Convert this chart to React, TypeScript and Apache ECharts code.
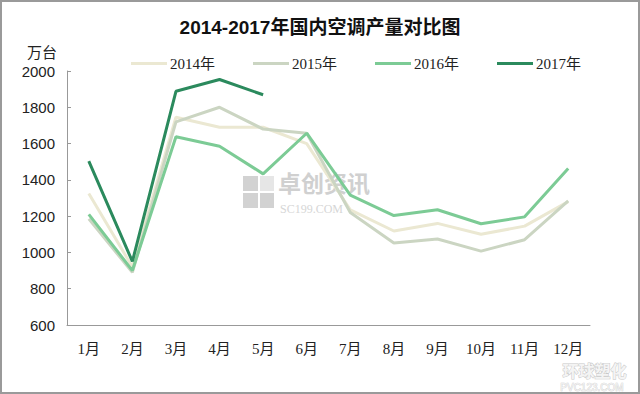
import React, { useEffect, useRef } from "react";
import * as echarts from "echarts";

const months = ["1月", "2月", "3月", "4月", "5月", "6月", "7月", "8月", "9月", "10月", "11月", "12月"];
const yTicks = [600, 2000, 200];
const s2014 = [1325, 920, 1745, 1690, 1690, 1600, 1235, 1118, 1160, 1100, 1145, 1280];
const s2015 = [1185, 890, 1720, 1800, 1680, 1657, 1220, 1052, 1074, 1007, 1070, 1284];
const s2016 = [1210, 900, 1638, 1585, 1433, 1657, 1316, 1203, 1235, 1158, 1196, 1463];
const s2017 = [1503, 950, 1888, 1953, 1869];
const seriesNames = ["2014年", "2015年", "2016年", "2017年"];
const colors = ["#ebe8d2", "#cbd5c2", "#7ccb95", "#2b8a5d"];

export default function App() {
  const ref = useRef<HTMLDivElement>(null);
  useEffect(() => {
    document.body.style.margin = "0";
    const chart = echarts.init(ref.current!, undefined, { renderer: "svg" });
    const data = [s2014, s2015, s2016, s2017];
    chart.setOption({
      animation: false,
      backgroundColor: "#ffffff",
      title: {
        text: "2014-2017年国内空调产量对比图",
        left: "center",
        top: 11,
        textStyle: {
          fontFamily: "'Liberation Sans', 'Noto Sans CJK SC'",
          fontWeight: "bold",
          fontSize: 19,
          color: "#111",
        },
      },
      legend: {
        left: 124,
        top: 49,
        itemWidth: 36,
        itemHeight: 3,
        itemGap: 38,
        icon: "rect",
        textStyle: {
          fontFamily: "'Liberation Serif', 'Noto Sans CJK SC'",
          fontSize: 15,
          color: "#222",
          padding: [0, 0, 0, -2],
        },
        data: seriesNames,
      },
      grid: { left: 65, right: 48, top: 69, bottom: 67 },
      xAxis: {
        type: "category",
        data: months,
        boundaryGap: true,
        axisLine: { lineStyle: { color: "#999", width: 1 } },
        axisTick: { inside: true, length: 4, lineStyle: { color: "#999" } },
        axisLabel: {
          margin: 16,
          fontFamily: "'Liberation Serif', 'Noto Sans CJK SC'",
          fontSize: 15,
          color: "#222",
        },
      },
      yAxis: {
        type: "value",
        min: yTicks[0],
        max: yTicks[1],
        interval: yTicks[2],
        name: "万台",
        nameLocation: "end",
        nameGap: 12,
        nameTextStyle: {
          fontFamily: "'Noto Sans CJK SC'",
          fontSize: 15,
          color: "#222",
          align: "right",
          padding: [0, 10, 0, 0],
        },
        splitLine: { show: false },
        axisLine: { show: true, lineStyle: { color: "#999", width: 1 } },
        axisTick: { show: true, inside: true, length: 4, lineStyle: { color: "#999" } },
        axisLabel: {
          margin: 12,
          formatter: (v: number) => String(v),
          fontFamily: "'Liberation Sans'",
          fontSize: 15,
          color: "#222",
        },
      },
      graphic: [
        { type: "rect", left: 241, top: 174, shape: { width: 15, height: 15 }, style: { fill: "#d2d2d2" }, z: 0 },
        { type: "rect", left: 258, top: 174, shape: { width: 14, height: 15 }, style: { fill: "#e6e6e6" }, z: 0 },
        { type: "rect", left: 241, top: 191, shape: { width: 15, height: 15 }, style: { fill: "#d2d2d2" }, z: 0 },
        { type: "rect", left: 258, top: 191, shape: { width: 14, height: 15 }, style: { fill: "#d2d2d2" }, z: 0 },
        {
          type: "text", left: 276, top: 168, z: 0,
          style: { text: "卓创资讯", fill: "#d0d0d0", font: "bold 23px 'Noto Sans CJK SC'" },
        },
        {
          type: "text", left: 278, top: 201, z: 0,
          style: { text: "SC199.COM", fill: "#d6d6d6", font: "12px 'Liberation Serif'" },
        },
        {
          type: "text", left: 560, top: 359, z: 0,
          style: { text: "环球塑化", fill: "#f4f4f4", stroke: "#c8c8c8", lineWidth: 1, font: "bold 16px 'Noto Sans CJK SC'" },
        },
        {
          type: "text", left: 558, top: 380, z: 0,
          style: { text: "PVC123.COM", fill: "#f2f2f2", stroke: "#cccccc", lineWidth: 0.6, font: "10px 'Liberation Sans'" },
        },
      ],
      series: data.map((d, i) => ({
        name: seriesNames[i],
        type: "line",
        data: d,
        symbol: "none",
        z: 5 + i,
        lineStyle: { color: colors[i], width: 3 },
        itemStyle: { color: colors[i] },
      })),
    });
    return () => chart.dispose();
  }, []);
  return (
    <div
      ref={ref}
      style={{ width: 640, height: 394, boxSizing: "border-box", border: "2px solid #9a9a9a" }}
    />
  );
}
